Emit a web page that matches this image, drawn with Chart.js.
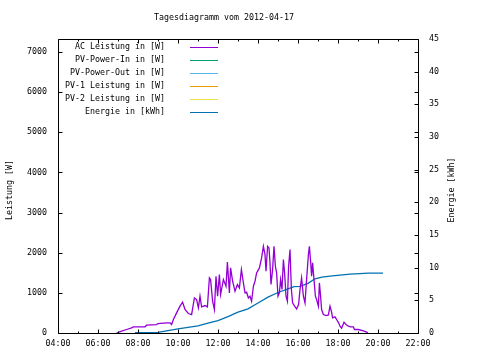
<!DOCTYPE html>
<html>
<head>
<meta charset="utf-8">
<script src="https://cdn.jsdelivr.net/npm/chart.js@4/dist/chart.umd.min.js"></script>
<style>
html,body{margin:0;padding:0;background:#fff;}
#c{display:block;}
</style>
</head>
<body>
<canvas id="c" width="480" height="360"></canvas>
<script>
// ---- data ----
const chartTitle = "Tagesdiagramm vom 2012-04-17";
const leftAxisTitle = "Leistung [W]";
const rightAxisTitle = "Energie [kWh]";
const xTickHours = [4, 6, 8, 10, 12, 14, 16, 18, 20, 22];
const leftTicks = [0, 1000, 2000, 3000, 4000, 5000, 6000, 7000];
const rightTicks = [0, 5, 10, 15, 20, 25, 30, 35, 40, 45];
const seriesNames = ["AC Leistung in [W]", "PV-Power-In in [W]", "PV-Power-Out in [W]",
                     "PV-1 Leistung in [W]", "PV-2 Leistung in [W]", "Energie in [kWh]"];
const seriesColors = ["#9400D3", "#009E73", "#56B4E9", "#E69F00", "#F0E442", "#0072B2"];

// AC power: time in hours, value in W
const acHours = [6.93,7.05,7.18,7.43,7.68,7.77,8.35,8.43,8.93,9.0,9.43,9.6,9.68,9.77,9.93,10.1,10.23,10.35,10.52,10.68,
 10.82,10.93,11.02,11.1,11.18,11.35,11.47,11.57,11.63,11.73,11.82,11.9,11.98,12.07,12.13,12.27,12.4,12.47,12.57,12.63,
 12.73,12.85,12.97,13.07,13.17,13.27,13.35,13.43,13.52,13.6,13.68,13.77,13.85,13.93,14.07,14.18,14.27,14.35,14.4,14.48,
 14.55,14.6,14.65,14.73,14.8,14.87,14.93,15.0,15.07,15.13,15.2,15.27,15.33,15.4,15.47,15.53,15.6,15.67,15.73,15.83,
 15.93,16.03,16.1,16.18,16.27,16.35,16.43,16.52,16.57,16.63,16.68,16.73,16.8,16.87,16.93,17.02,17.07,17.13,17.18,17.27,
 17.4,17.52,17.6,17.67,17.73,17.85,17.93,18.03,18.1,18.18,18.3,18.4,18.52,18.63,18.77,18.82,19.02,19.27,19.43,19.5];
const acWatts = [0,20,45,87,128,154,154,195,211,236,253,253,211,336,502,668,767,585,485,460,
 875,834,626,917,651,684,651,1373,1331,792,585,1414,917,1456,958,1331,1165,1770,1000,1622,
 1290,1041,1207,1124,1580,1248,1000,1017,875,917,792,1165,1290,1497,1622,1870,2160,1953,1539,2160,
 2119,1746,1207,1580,2160,1663,1497,917,1000,1331,1083,1829,1497,917,792,1663,2078,1083,750,668,
 600,709,1083,1373,917,750,1331,1953,2160,1787,1414,1746,1331,917,834,668,1248,917,585,460,
 434,450,668,543,378,402,336,253,170,120,270,211,170,153,153,87,87,53,20,0];

// Energy: time in hours, value in kWh
const energyHours = [7.85,9.0,9.5,10.0,10.5,11.0,11.5,12.0,12.5,13.0,13.5,14.0,14.5,15.0,15.5,15.8,16.1,16.5,16.85,17.2,17.6,18.1,18.6,19.1,19.5,20.25];
const energyKWh   = [0.05,0.1,0.35,0.62,0.85,1.1,1.5,1.9,2.5,3.2,3.7,4.6,5.5,6.2,6.75,7.1,7.15,7.6,8.3,8.55,8.7,8.85,9.0,9.1,9.15,9.15];

// ---- build ----
const toXY = (xs, ys) => xs.map((x, i) => ({x: x, y: ys[i]}));
const FONT = "DejaVu Sans Mono";
const pad2 = n => (n < 10 ? "0" : "") + n;

const frame = {
  id: "gnuframe",
  afterDraw(chart) {
    const ctx = chart.ctx, a = chart.chartArea;
    const sx = chart.scales.x, sy = chart.scales.y, sy2 = chart.scales.y2;
    ctx.save();
    ctx.strokeStyle = "#000";
    ctx.lineWidth = 1;
    const L = Math.round(a.left) + 0.5, R = Math.round(a.right) + 0.5;
    const T = Math.round(a.top) + 0.5, B = Math.round(a.bottom) + 0.5;
    ctx.beginPath();
    ctx.rect(L, T, R - L, B - T);
    leftTicks.forEach(v => {
      const y = Math.round(sy.getPixelForValue(v)) + 0.5;
      ctx.moveTo(L, y); ctx.lineTo(L + 4, y);
      ctx.moveTo(R, y); ctx.lineTo(R - 4, y);
    });
    rightTicks.forEach(v => {
      const y = Math.round(sy2.getPixelForValue(v)) + 0.5;
      ctx.moveTo(R, y); ctx.lineTo(R - 4, y);
    });
    for (let h = 4; h <= 22; h++) {
      const x = Math.round(sx.getPixelForValue(h)) + 0.5;
      const len = (h % 2 === 0) ? 4 : 2;
      ctx.moveTo(x, B); ctx.lineTo(x, B - len);
      ctx.moveTo(x, T); ctx.lineTo(x, T + len);
    }
    ctx.stroke();

    ctx.fillStyle = "#000";
    ctx.font = "8.3px '" + FONT + "'";
    ctx.textBaseline = "middle";
    ctx.textAlign = "center";
    ctx.fillText(chartTitle, 224, 18);

    ctx.save();
    ctx.translate(10, 190);
    ctx.rotate(-Math.PI / 2);
    ctx.fillText(leftAxisTitle, 0, 0);
    ctx.restore();
    ctx.save();
    ctx.translate(452, 190);
    ctx.rotate(-Math.PI / 2);
    ctx.fillText(rightAxisTitle, 0, 0);
    ctx.restore();

    ctx.textAlign = "right";
    seriesNames.forEach((name, i) => {
      const y = 47 + i * 12.9;
      ctx.fillStyle = "#000";
      ctx.fillText(name, 165, y);
      ctx.strokeStyle = seriesColors[i];
      ctx.beginPath();
      const yy = Math.round(y) + 0.5;
      ctx.moveTo(190, yy); ctx.lineTo(218, yy);
      ctx.stroke();
    });
    ctx.restore();
  }
};

const ds = [
  {label: seriesNames[0], data: toXY(acHours, acWatts), borderColor: seriesColors[0], yAxisID: "y"},
  {label: seriesNames[1], data: [], borderColor: seriesColors[1], yAxisID: "y"},
  {label: seriesNames[2], data: [], borderColor: seriesColors[2], yAxisID: "y"},
  {label: seriesNames[3], data: [], borderColor: seriesColors[3], yAxisID: "y"},
  {label: seriesNames[4], data: [], borderColor: seriesColors[4], yAxisID: "y"},
  {label: seriesNames[5], data: toXY(energyHours, energyKWh), borderColor: seriesColors[5], yAxisID: "y2"}
].map(d => Object.assign({borderWidth: 1.3, pointRadius: 0, fill: false, tension: 0}, d));

const tickFont = {family: FONT, size: 8.3};

new Chart(document.getElementById("c"), {
  type: "line",
  data: {datasets: ds},
  plugins: [frame],
  options: {
    responsive: false,
    animation: false,
    events: [],
    layout: {padding: {top: 39, left: 0, right: 0, bottom: 0}},
    plugins: {legend: {display: false}, title: {display: false}, tooltip: {enabled: false}},
    scales: {
      x: {
        type: "linear", min: 4, max: 22,
        grid: {display: false, drawTicks: false},
        border: {display: false},
        afterBuildTicks: s => { s.ticks = xTickHours.map(v => ({value: v})); },
        afterFit: s => { s.height = 27; },
        ticks: {font: tickFont, color: "#000", padding: 6, maxRotation: 0, autoSkip: false,
                callback: v => pad2(v) + ":00"}
      },
      y: {
        type: "linear", position: "left", min: 0, max: 7325,
        grid: {display: false, drawTicks: false},
        border: {display: false},
        afterBuildTicks: s => { s.ticks = leftTicks.map(v => ({value: v})); },
        afterFit: s => { s.width = 58; },
        ticks: {font: tickFont, color: "#000", padding: 11, autoSkip: false, callback: v => String(v)}
      },
      y2: {
        type: "linear", position: "right", min: 0, max: 45,
        grid: {display: false, drawTicks: false},
        border: {display: false},
        afterBuildTicks: s => { s.ticks = rightTicks.map(v => ({value: v})); },
        afterFit: s => { s.width = 62; },
        ticks: {font: tickFont, color: "#000", padding: 11, autoSkip: false, callback: v => String(v)}
      }
    }
  }
});
</script>
</body>
</html>
